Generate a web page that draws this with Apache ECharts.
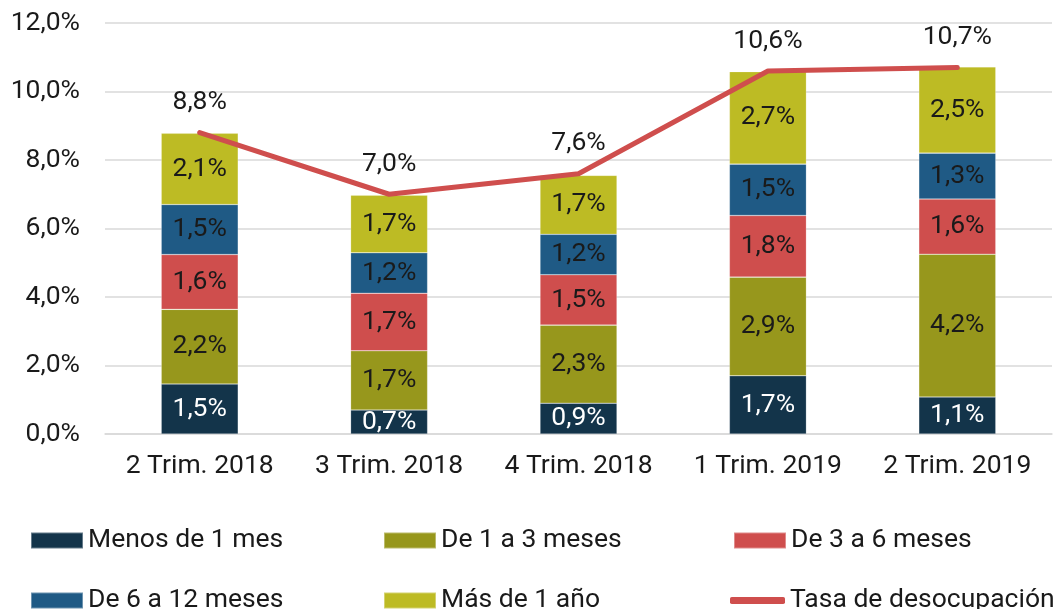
<!DOCTYPE html>
<html>
<head>
<meta charset="utf-8">
<script src="https://cdn.jsdelivr.net/npm/echarts@6/dist/echarts.min.js"></script>
<style>
  html, body { margin: 0; padding: 0; background: #fff; }
  #box1 { width: 1057px; height: 609px; }
</style>
</head>
<body>
<div id="box1"></div>
<script>
// datos
var trimestres = ['2 Trim. 2018', '3 Trim. 2018', '4 Trim. 2018', '1 Trim. 2019', '2 Trim. 2019'];
var menos1mes = [1.46, 0.70, 0.90, 1.70, 1.08];
var de1a3 = [2.18, 1.73, 2.28, 2.88, 4.17];
var de3a6 = [1.60, 1.68, 1.47, 1.80, 1.61];
var de6a12 = [1.46, 1.18, 1.18, 1.50, 1.34];
var mas1anio = [2.08, 1.68, 1.72, 2.70, 2.52];
var tasa = [8.8, 7.0, 7.6, 10.6, 10.7];
var yTicks = [0, 2, 4, 6, 8, 10, 12];

var fuente = 'Roboto';
var texto = '#1a1a1a';
var tam = 26.5;

function pct(v) {
  return Number(v).toFixed(1).replace('.', ',') + '%';
}

var chart = echarts.init(document.getElementById('box1'));

var tramos = [
  { name: 'Menos de 1 mes', data: menos1mes, color: '#13344a', label: '#ffffff' },
  { name: 'De 1 a 3 meses', data: de1a3, color: '#97971c', label: texto },
  { name: 'De 3 a 6 meses', data: de3a6, color: '#cf4e4d', label: texto },
  { name: 'De 6 a 12 meses', data: de6a12, color: '#1f5a85', label: texto },
  { name: 'Más de 1 año', data: mas1anio, color: '#bdbb24', label: texto }
];

var series = tramos.map(function (t) {
  return {
    name: t.name,
    type: 'bar',
    stack: 'total',
    barWidth: 77,
    data: t.data,
    itemStyle: { color: t.color, borderColor: 'rgba(255,255,255,0.35)', borderWidth: 0.6 },
    label: {
      show: true,
      position: 'inside',
      color: t.label,
      fontFamily: fuente,
      fontSize: tam,
      formatter: function (p) { return pct(p.value); }
    }
  };
});

series.push({
  name: 'Tasa de desocupación',
  type: 'line',
  data: tasa,
  z: 5,
  symbol: 'circle',
  symbolSize: 1,
  lineStyle: { color: '#cf4e4d', width: 5, cap: 'round' },
  itemStyle: { color: '#cf4e4d' },
  label: {
    show: true,
    position: 'top',
    distance: 16,
    color: texto,
    fontFamily: fuente,
    fontSize: tam,
    formatter: function (p) { return pct(p.value); }
  }
});

// leyenda en dos filas con columnas fijas
var posLeyenda = [
  [30, 527], [383, 527], [733, 527],
  [30, 587], [383, 587], [730, 587]
];
var leyendas = series.map(function (s, i) {
  var esLinea = s.type === 'line';
  return {
    left: posLeyenda[i][0],
    top: posLeyenda[i][1],
    padding: 0,
    data: [s.name],
    icon: esLinea ? 'roundRect' : 'rect',
    itemWidth: esLinea ? 55 : 52,
    itemHeight: esLinea ? 7 : 16,
    itemGap: 0,
    textStyle: { fontFamily: fuente, fontSize: tam, color: texto },
    selectedMode: false
  };
});

option = {
  animation: false,
  legend: leyendas,
  grid: {
    left: 105,
    right: 5,
    top: 23,
    bottom: 175
  },
  xAxis: {
    type: 'category',
    data: trimestres,
    axisTick: { show: false },
    axisLine: { show: true, lineStyle: { color: '#d9d9d9', width: 1.5 } },
    axisLabel: { fontFamily: fuente, fontSize: tam, color: texto, margin: 19, interval: 0 }
  },
  yAxis: {
    type: 'value',
    min: yTicks[0],
    max: yTicks[yTicks.length - 1],
    interval: 2,
    axisLine: { show: false },
    axisTick: { show: false },
    splitLine: { lineStyle: { color: '#d9d9d9', width: 1.5 } },
    axisLabel: {
      fontFamily: fuente, fontSize: tam, color: texto, margin: 25,
      formatter: function (v) { return pct(v); }
    }
  },
  series: series
};

chart.setOption(option);
</script>
</body>
</html>
